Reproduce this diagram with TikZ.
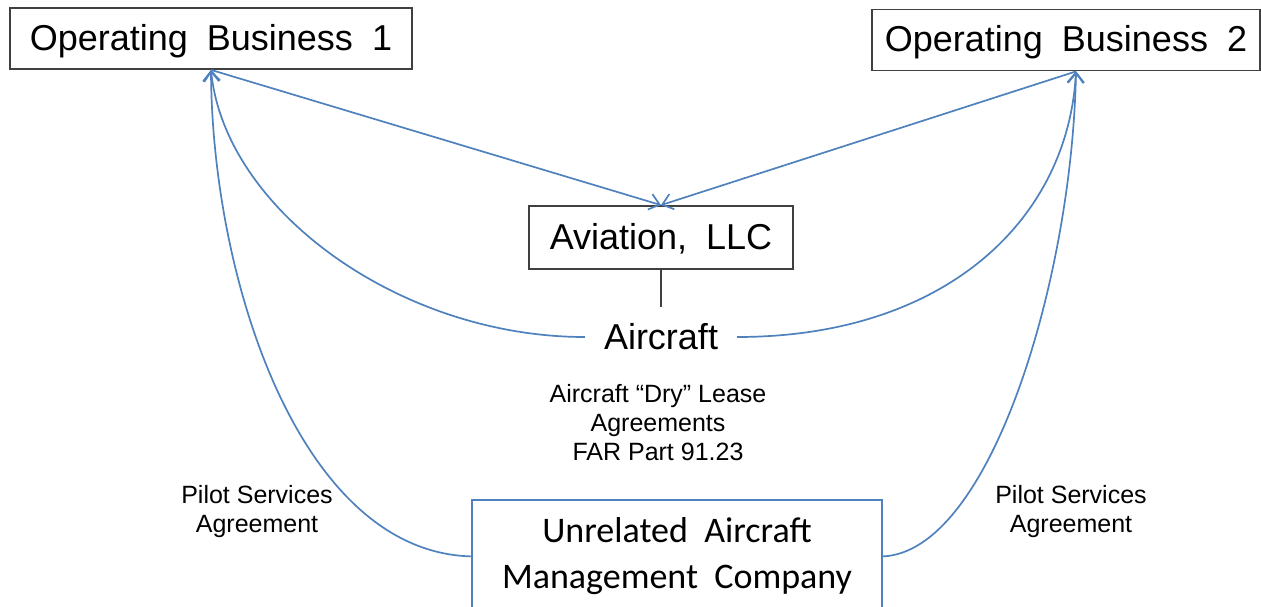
\documentclass[tikz,border=0pt]{standalone}
\usepackage{fontspec}
\setmainfont{Liberation Sans}
\newfontfamily\boxfont{Liberation Sans}[WordSpace=1.9]
\newfontfamily\calfont{Carlito}[WordSpace=2]
\usetikzlibrary{arrows.meta,calc}
\definecolor{linkblue}{HTML}{4F81BD}
\definecolor{boxgray}{HTML}{404040}
\tikzset{
>={Straight Barb[length=10pt,width=16pt]},
entity/.style={draw=boxgray,line width=1.8pt,inner sep=0pt,text depth=3pt,font=\boxfont\fontsize{36}{40}\selectfont},
freccia/.style={->,draw=linkblue,line width=1.7pt},
nota/.style={align=center,font=\fontsize{25}{29}\selectfont}}

\begin{document}
\begin{tikzpicture}[x=1pt,y=-1pt]
\useasboundingbox (0,0) rectangle (1261,606);

\node[entity,minimum width=402pt,minimum height=61pt] (ob1) at (211,38.5) {Operating Business 1};
\node[entity,minimum width=388pt,minimum height=61pt] (ob2) at (1066,40) {Operating Business 2};
\node[entity,minimum width=264pt,minimum height=63pt] (llc) at (661,237.5) {Aviation, LLC};
\node[inner xsep=19pt,inner ysep=17pt,font=\boxfont\fontsize{36}{40}\selectfont] (aircraft) at (661,337) {Aircraft};
\node[draw=linkblue,line width=1.6pt,anchor=north,minimum width=410pt,inner xsep=0pt,inner ysep=18pt,
  align=center,font=\calfont\fontsize{36}{46}\selectfont] (mgmt) at (677,499) {Unrelated Aircraft\\Management Company};
\coordinate (ob2foot) at ([xshift=10pt]ob2.south);

\node[nota] (lease) at (658,423) {Aircraft “Dry” Lease\\Agreements\\FAR Part 91.23};
\node[nota] (pilot1) at (257,512) {Pilot Services\\Agreement};
\node[nota] (pilot2) at (1071,512) {Pilot Services\\Agreement};

\draw[boxgray,line width=1.4pt] (llc.south) -- (aircraft.north);

\path[freccia]
	(ob1.south) edge (llc.north)
	(ob2foot) edge (llc.north);
\draw[freccia] (aircraft.west) .. controls (400,337) and (225,210) .. (ob1.south);
\draw[freccia] (mgmt.west) .. controls (300,552) and (212,280) .. (ob1.south);
\draw[freccia] (aircraft.east) .. controls (945,337) and (1068,220) .. (ob2foot);
\draw[freccia] (mgmt.east) .. controls (990,552) and (1072,280) .. (ob2foot);
\end{tikzpicture}
\end{document}
